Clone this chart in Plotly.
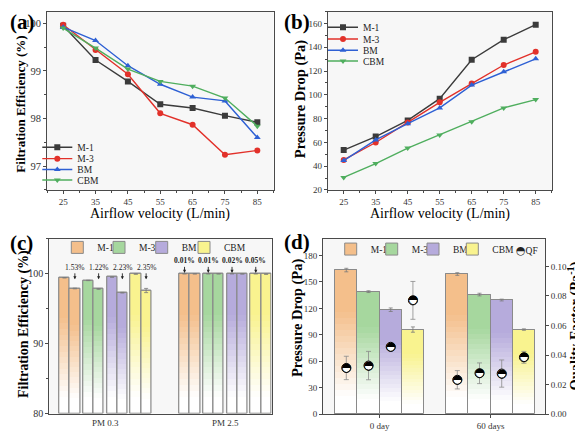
import plotly.graph_objects as go

SERIF = "Liberation Serif"
# the page body keeps its default 8px margin, so the figure is drawn 8px in from the window edge
OFF = 8
W, H = 583 - OFF, 436 - OFF

# ---------------- data ----------------
velocity = [25, 35, 45, 55, 65, 75, 85]
materials = ["M-1", "M-3", "BM", "CBM"]

eff_m1 = [99.95, 99.23, 98.78, 98.30, 98.22, 98.06, 97.92]
eff_m3 = [99.97, 99.44, 98.93, 98.11, 97.87, 97.24, 97.33]
eff_bm = [99.92, 99.64, 99.11, 98.72, 98.45, 98.37, 97.60]
eff_cbm = [99.90, 99.48, 99.04, 98.78, 98.68, 98.43, 97.84]

dp_m1 = [53.5, 64.9, 78.5, 96.8, 129.5, 146.4, 159.0]
dp_m3 = [45.2, 59.9, 76.8, 93.7, 109.5, 125.1, 136.2]
dp_bm = [44.7, 62.1, 75.7, 89.0, 108.2, 119.5, 130.3]
dp_cbm = [30.5, 42.2, 55.2, 66.3, 77.4, 89.0, 96.0]

pm_labels = ["PM 0.3", "PM 2.5"]
pm03_first = [99.42, 99.04, 99.52, 99.95]
pm03_first_err = [0.03, 0.03, 0.03, 0.02]
pm03_second = [97.89, 97.82, 97.29, 97.60]
pm03_second_err = [0.05, 0.05, 0.05, 0.30]
pm25_first = [99.99, 99.99, 99.99, 99.99]
pm25_second = [99.98, 99.98, 99.97, 99.94]
pm25_err = [0.02, 0.02, 0.02, 0.02]
pm03_drop = ["1.53%", "1.22%", "2.23%", "2.35%"]
pm25_drop = ["0.01%", "0.01%", "0.02%", "0.05%"]

day_labels = ["0 day", "60 days"]
pd_day0 = [163.5, 139.0, 118.5, 96.0]
pd_day0_err = [2.0, 1.0, 2.0, 3.0]
pd_day60 = [159.0, 135.7, 129.5, 96.0]
pd_day60_err = [1.5, 1.5, 1.0, 0.8]
qf_day0 = [0.0313, 0.0329, 0.0456, 0.0770]
qf_day0_err = [0.0079, 0.0096, 0.0015, 0.0128]
qf_day60 = [0.0233, 0.0277, 0.0275, 0.0385]
qf_day60_err = [0.0062, 0.0070, 0.0092, 0.0040]

# ---------------- style ----------------
line_colors = ["#3b3b3b", "#e2312a", "#2e60d4", "#4fae5e"]
symbols = ["square", "circle", "triangle-up", "triangle-down"]
bar_colors = ["#f4bf8b", "#a6d79e", "#b6abdc", "#f9f38f"]
EDGE = "#8a8a8a"
AX = "#4a4a4a"
K = 24
LDX, LDY = -1, 2.5   # legend box offsets (px)


def px(p):
    return (p - OFF) / W


def py(p):
    return 1 - (p - OFF) / H


def mix(hexc, m):
    r, g, b = int(hexc[1:3], 16), int(hexc[3:5], 16), int(hexc[5:7], 16)
    return "rgb(%d,%d,%d)" % (255 + (r - 255) * m, 255 + (g - 255) * m, 255 + (b - 255) * m)


def grad(t):
    return min(1.0, max(0.0, (t - 0.12) / 0.6))


fig = go.Figure()
legend_layout = {}
leg_count = [0]


def new_legend(text_x, yp, size):
    leg_count[0] += 1
    lid = "legend" if leg_count[0] == 1 else "legend%d" % leg_count[0]
    legend_layout[lid] = dict(x=px(text_x - 40 + LDX), y=py(yp + LDY), xanchor="left", yanchor="middle",
                              bgcolor="rgba(0,0,0,0)", borderwidth=0, tracegroupgap=0,
                              font=dict(family=SERIF, size=size, color="#222"))
    return lid


# ---------------- (a) ----------------
eff_series = [eff_m1, eff_m3, eff_bm, eff_cbm]
a_leg_y = [146.7, 158.3, 169.3, 180.0]
for s, name in enumerate(materials):
    lid = new_legend(78.3, a_leg_y[s], 9.5)
    fig.add_trace(go.Scatter(
        x=velocity, y=eff_series[s], name=name, mode="lines+markers",
        line=dict(color=line_colors[s], width=1.4),
        marker=dict(symbol=symbols[s], size=6, color=line_colors[s]),
        xaxis="x", yaxis="y", legend=lid))

# ---------------- (b) ----------------
dp_series = [dp_m1, dp_m3, dp_bm, dp_cbm]
b_leg_y = [25.0, 37.0, 48.3, 59.3]
for s, name in enumerate(materials):
    lid = new_legend(364.0, b_leg_y[s], 9.5)
    fig.add_trace(go.Scatter(
        x=velocity, y=dp_series[s], name=name, mode="lines+markers",
        line=dict(color=line_colors[s], width=1.4),
        marker=dict(symbol=symbols[s], size=6, color=line_colors[s]),
        xaxis="x2", yaxis="y2", legend=lid))


def gradient_bars(xs, vals, base, width, color, errs, xa, ya, name, lid):
    fig.add_trace(go.Bar(x=xs, y=[v - base for v in vals], base=base, width=width,
                         marker=dict(color=color, line=dict(color=EDGE, width=1)),
                         name=name, legend=lid, xaxis=xa, yaxis=ya))
    for k in range(K):
        lo = [base + (v - base) * k / K for v in vals]
        fig.add_trace(go.Bar(x=xs, y=[v - l for v, l in zip(vals, lo)], base=lo, width=width,
                             marker=dict(color=mix(color, grad((k + 0.5) / K)), line=dict(width=0)),
                             showlegend=False, xaxis=xa, yaxis=ya, hoverinfo="skip"))
    fig.add_trace(go.Bar(x=xs, y=[v - base for v in vals], base=base, width=width,
                         marker=dict(color="rgba(0,0,0,0)", line=dict(color=EDGE, width=1)),
                         error_y=dict(type="data", array=errs, color="#7a7a7a", thickness=0.8, width=2),
                         showlegend=False, xaxis=xa, yaxis=ya))


# ---------------- (c) ----------------
PAIR, CW = 0.198, 0.086
c_leg_x = [98.3, 140.0, 182.7, 225.0]
for s, name in enumerate(materials):
    xs = [g + (s - 1.5) * PAIR + (k - 0.5) * CW for g in (0, 1) for k in (0, 1)]
    vals = [pm03_first[s], pm03_second[s], pm25_first[s], pm25_second[s]]
    errs = [pm03_first_err[s], pm03_second_err[s], pm25_err[s], pm25_err[s]]
    lid = new_legend(c_leg_x[s], 248.3, 9.5)
    gradient_bars(xs, vals, 80, CW, bar_colors[s], errs, "x3", "y3", name, lid)

annotations = []
for s in range(4):
    annotations.append(dict(x=(s - 1.5) * PAIR + 0.5 * CW, y=99.2, xref="x3", yref="y3",
                            text=pm03_drop[s], showarrow=True, ax=0, ay=-12,
                            arrowhead=2, arrowsize=0.7, arrowwidth=0.9, arrowcolor="#222",
                            font=dict(family=SERIF, size=7.5, color="#222")))
    annotations.append(dict(x=1 + (s - 1.5) * PAIR - 0.5 * CW, y=100.12, xref="x3", yref="y3",
                            text="<b>%s</b>" % pm25_drop[s], showarrow=True, ax=0, ay=-12,
                            arrowhead=2, arrowsize=0.7, arrowwidth=0.9, arrowcolor="#222",
                            font=dict(family=SERIF, size=7.5, color="#222")))

# ---------------- (d) ----------------
DW = 0.2
d_leg_x = [371.7, 412.7, 454.0, 493.3]
for s, name in enumerate(materials):
    xs = [g + (s - 1.5) * DW for g in (0, 1)]
    vals = [pd_day0[s], pd_day60[s]]
    errs = [pd_day0_err[s], pd_day60_err[s]]
    lid = new_legend(d_leg_x[s], 250.0, 9.5)
    gradient_bars(xs, vals, 0, DW, bar_colors[s], errs, "x4", "y4", name, lid)

qx = [g + (s - 1.5) * DW for g in (0, 1) for s in range(4)]
qy = qf_day0 + qf_day60
qe = qf_day0_err + qf_day60_err
fig.add_trace(go.Scatter(x=qx, y=qy, mode="markers", name="QF",
                         marker=dict(symbol="circle", size=9, color="white", line=dict(color="black", width=1)),
                         error_y=dict(type="data", array=qe, color="#8a8a8a", thickness=0.8, width=2.5),
                         showlegend=False, xaxis="x4", yaxis="y5"))
fig.add_trace(go.Scatter(x=qx, y=qy, mode="text", text=["\u25d3"] * len(qx), textposition="middle center",
                         textfont=dict(family="DejaVu Sans", size=12, color="black"),
                         showlegend=False, xaxis="x4", yaxis="y5", hoverinfo="skip"))
annotations.append(dict(x=px(514), y=py(253.5), xref="paper", yref="paper", xanchor="left", yanchor="middle",
                        text="<span style='font-family:DejaVu Sans;font-size:11px'>\u25d3</span>QF",
                        showarrow=False,
                        font=dict(family=SERIF, size=9.5, color="#222")))


# ---------------- axis titles (placed as text) ----------------
def title(text, xp, yp, size, angle=0):
    annotations.append(dict(x=px(xp), y=py(yp), xref="paper", yref="paper", xanchor="center",
                            yanchor="middle", text=text, textangle=angle, showarrow=False,
                            font=dict(family=SERIF, size=size, color="black")))


title("Airflow velocity (L/min)", 160.0, 216.5, 14)
title("Airflow velocity (L/min)", 439.7, 216.5, 14)
title("<b>Filtration Efficiency (%)</b>", 21.0, 106.0, 13, -90)
title("<b>Pressure Drop (Pa)</b>", 300.5, 100.0, 14.5, -90)
title("<b>Filtration Efficiency (%)</b>", 23.5, 329.0, 14, -90)
title("<b>Pressure Drop (Pa)</b>", 297.5, 322.0, 14.5, -90)
title("<b>Quality Factor (Pa<sup>-1</sup>)</b>", 574.0, 331.0, 14.5, -90)

# panel labels
for lab, xp, yp in [("(a)", 8, 8), ("(b)", 282, 8), ("(c)", 8, 232), ("(d)", 282, 231)]:
    annotations.append(dict(x=px(xp), y=py(yp), xref="paper", yref="paper", xanchor="left",
                            yanchor="top", text="<b>%s</b>" % lab, showarrow=False,
                            font=dict(family=SERIF, size=21, color="black")))


def axis(**kw):
    d = dict(showline=True, linecolor=AX, linewidth=1, mirror=True, ticks="outside", ticklen=3,
             tickwidth=1, tickcolor=AX, showgrid=False, zeroline=False,
             tickfont=dict(family=SERIF, size=9, color="#333"))
    d.update(kw)
    return d


def minor(dt, t0=0):
    return dict(ticks="outside", ticklen=2, dtick=dt, tick0=t0, tickcolor=AX, showgrid=False)


fig.update_layout(
    width=W, height=H, margin=dict(l=0, r=0, t=0, b=0), autosize=False,
    paper_bgcolor="white", plot_bgcolor="#f7f7f7", barmode="overlay", bargap=0,
    xaxis=axis(domain=[px(47), px(273.5)], anchor="y", range=[20, 90], dtick=10, tick0=25,
               minor=minor(5, 20)),
    yaxis=axis(domain=[py(192.5), py(12)], anchor="x", range=[96.5, 100.24], dtick=1, tick0=0,
               tickfont=dict(family=SERIF, size=10.5, color="#333"), minor=minor(0.5)),
    xaxis2=axis(domain=[px(327.7), px(551.7)], anchor="y2", range=[20, 90], dtick=10, tick0=25,
                minor=minor(5, 20)),
    yaxis2=axis(domain=[py(192.5), py(11.7)], anchor="x2", range=[20, 170], dtick=20, tick0=20,
                minor=minor(10)),
    xaxis3=axis(domain=[px(49.3), px(271.5)], anchor="y3", range=[-0.467, 1.385],
                tickvals=[0, 1], ticktext=pm_labels, ticks=""),
    yaxis3=axis(domain=[py(419.5), py(242)], anchor="x3", range=[80, 105], dtick=10, tick0=80,
                tickfont=dict(family=SERIF, size=10, color="#333"), minor=minor(5)),
    xaxis4=axis(domain=[px(323), px(545)], anchor="y4", range=[-0.51, 1.49],
                tickvals=[0, 1], ticktext=day_labels),
    yaxis4=axis(domain=[py(420), py(242.3)], anchor="x4", range=[0, 198.7], dtick=30, tick0=0),
    yaxis5=axis(overlaying="y4", side="right", anchor="x4", range=[0, 0.1185], dtick=0.02, tick0=0,
                tickformat=".2f", mirror=False),
    annotations=annotations,
    **legend_layout,
)

fig.write_html("out.html")
